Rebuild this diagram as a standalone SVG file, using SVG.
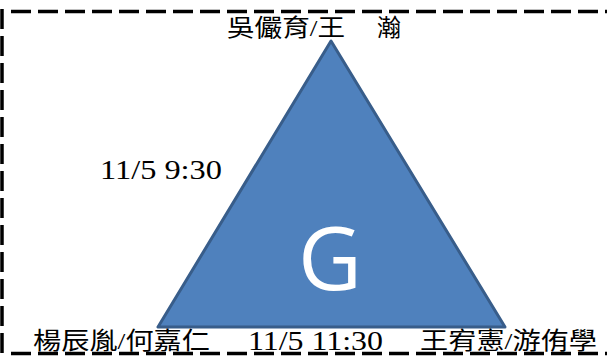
<svg xmlns="http://www.w3.org/2000/svg" width="607" height="356" viewBox="0 0 607 356">
<style>
.border{stroke:#000;stroke-width:3.5;stroke-dasharray:20 7;fill:none}
.lbl{font-family:"Liberation Serif","Noto Sans CJK TC",serif;font-size:24px;fill:#000}
.num{font-family:"Liberation Serif",serif;font-size:27px;fill:#000}
.big{font-family:"Open Sans","Liberation Sans",sans-serif;font-size:88px;fill:#fff}
</style>
<rect width="607" height="356" fill="#fff"/>
<g id="border">
<line class="border" x1="11" y1="11.5" x2="607" y2="11.5"/>
<line class="border" x1="2" y1="9" x2="2" y2="356"/>
<line class="border" x1="11" y1="353.5" x2="607" y2="353.5"/>
</g>
<g id="triangle">
<polygon points="331,41 158,327 505,327" fill="#4F81BD" stroke="#385D8A" stroke-width="3" stroke-linejoin="round"/>
<text class="big" x="330" y="290" text-anchor="middle">G</text>
</g>
<g id="top-label">
<text class="lbl" x="227" y="36" textLength="118" lengthAdjust="spacingAndGlyphs">吳儼育/王</text>
<text class="lbl" x="377" y="36">瀚</text>
</g>
<g id="left-label">
<text class="num" x="100" y="179" textLength="122" lengthAdjust="spacingAndGlyphs">11/5 9:30</text>
</g>
<g id="bottom-labels">
<text class="lbl" x="33" y="349" textLength="177" lengthAdjust="spacingAndGlyphs">楊辰胤/何嘉仁</text>
<text class="num" x="248" y="350" textLength="135" lengthAdjust="spacingAndGlyphs">11/5 11:30</text>
<text class="lbl" x="420" y="349" textLength="177" lengthAdjust="spacingAndGlyphs">王宥憲/游侑學</text>
</g>
</svg>
